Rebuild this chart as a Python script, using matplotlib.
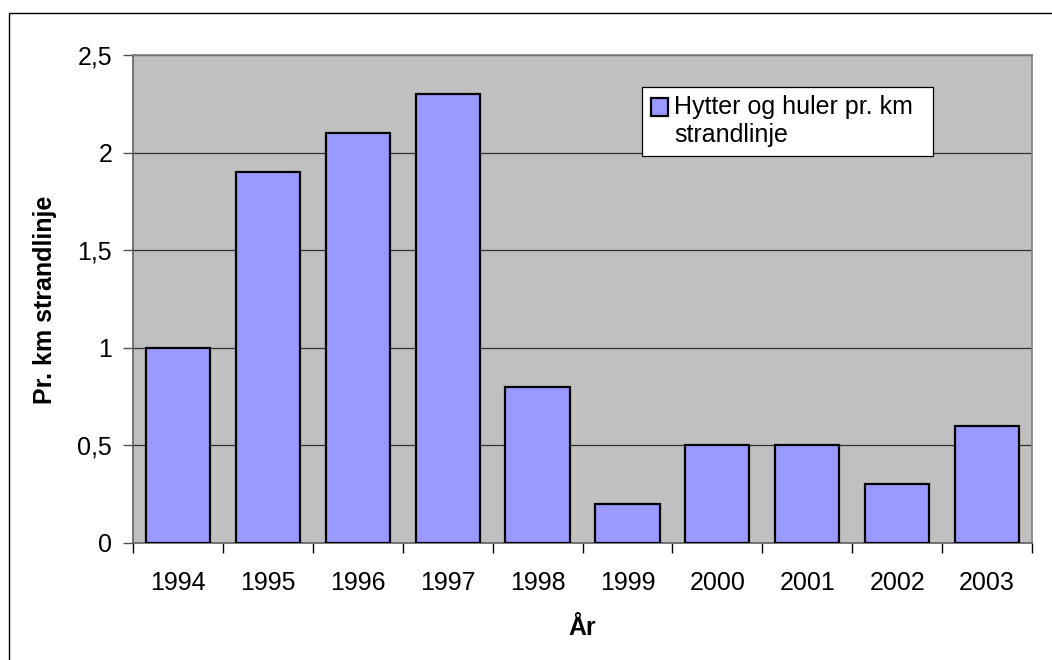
import matplotlib.pyplot as plt
from matplotlib.patches import Rectangle
import numpy as np

# data
years = ['1994', '1995', '1996', '1997', '1998', '1999', '2000', '2001', '2002', '2003']
values = [1.0, 1.9, 2.1, 2.3, 0.8, 0.2, 0.5, 0.5, 0.3, 0.6]
yticks = [0, 0.5, 1, 1.5, 2, 2.5]
ytick_labels = ['0', '0,5', '1', '1,5', '2', '2,5']
legend_label = 'Hytter og huler pr. km\nstrandlinje'

plt.rcParams['font.family'] = ['Liberation Sans', 'DejaVu Sans']
FS = 18

W, H = 1052, 660
fig = plt.figure(figsize=(W / 100, H / 100), dpi=100)
fig.patch.set_facecolor('white')

# outer chart border
fig.patches.append(Rectangle((9 / W, -0.1), 1.2, 1 - 13 / H + 0.1, transform=fig.transFigure,
                             fill=False, edgecolor='black', linewidth=1.0))

ax = fig.add_axes([133 / W, 1 - 543 / H, (1032 - 133) / W, (543 - 55) / H])
ax.set_facecolor('#C0C0C0')

x = np.arange(len(years))
ax.bar(x, values, width=1 / 1.4, color='#9999FF', edgecolor='black', linewidth=1.6, zorder=3)

ax.set_xlim(-0.5, len(years) - 0.5)
ax.set_ylim(0, 2.5)
ax.set_yticks(yticks)
ax.set_yticklabels(ytick_labels, fontsize=FS)
ax.yaxis.grid(True, color='#303030', linewidth=0.9, zorder=1)
ax.set_axisbelow(True)

# category labels centred, tick marks on the boundaries
ax.set_xticks(x)
ax.set_xticklabels(years, fontsize=FS)
ax.tick_params(axis='x', which='major', length=0, pad=20)
ax.set_xticks(np.arange(-0.5, len(years)), minor=True)
ax.tick_params(axis='x', which='minor', length=7, width=1, color='black', direction='out')
ax.tick_params(axis='y', length=7, width=1, color='#505050', pad=8)

for s in ['top', 'right']:
    ax.spines[s].set_color('#808080')
    ax.spines[s].set_linewidth(1.2)
ax.spines['left'].set_color('#606060')
ax.spines['bottom'].set_color('#606060')
ax.spines['left'].set_linewidth(1.2)
ax.spines['bottom'].set_linewidth(1.2)

fig.text(45 / W, 1 - 300 / H, 'Pr. km strandlinje', rotation=90, ha='center', va='center',
         fontsize=FS, fontweight='bold')
fig.text(582 / W, 1 - 628 / H, 'År', ha='center', va='center', fontsize=FS, fontweight='bold')

# legend box drawn by hand so the key sits on the first text line
fig.patches.append(Rectangle((642 / W, 1 - 156 / H), (933 - 642) / W, (156 - 87) / H,
                             transform=fig.transFigure, facecolor='white', edgecolor='black',
                             linewidth=0.9, zorder=5))
fig.patches.append(Rectangle((651 / W, 1 - 116 / H), 17 / W, 18 / H, transform=fig.transFigure,
                             facecolor='#9999FF', edgecolor='black', linewidth=1.6, zorder=6))
fig.text(674 / W, 1 - 95 / H, legend_label, ha='left', va='top', fontsize=FS,
         linespacing=1.2, zorder=7)

fig.savefig('out.png', dpi=100)
